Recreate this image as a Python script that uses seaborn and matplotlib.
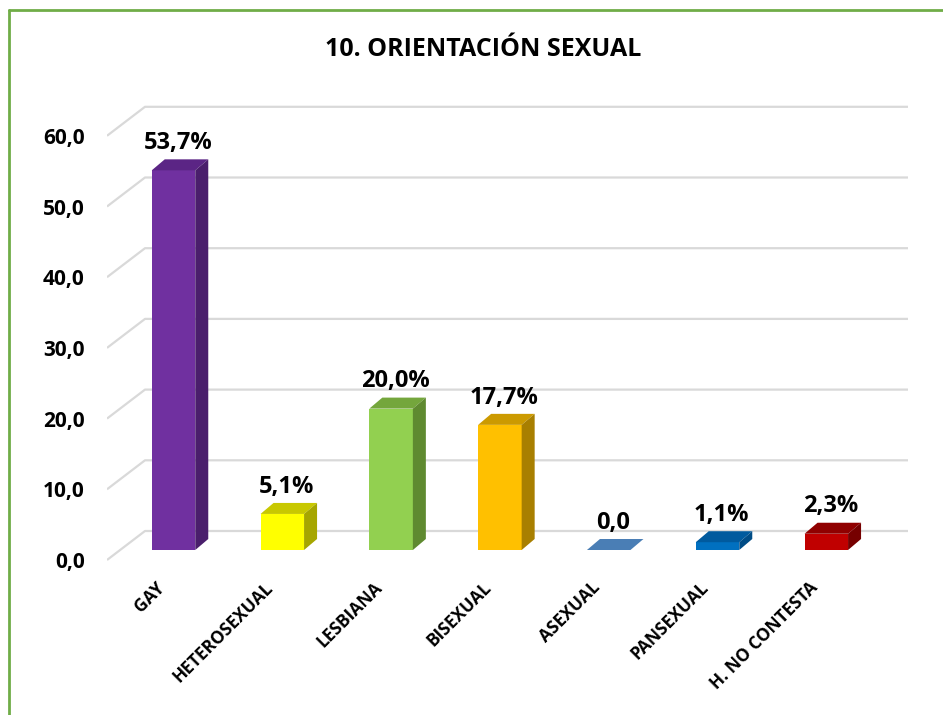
import numpy as np
import pandas as pd
import matplotlib
matplotlib.use('Agg')
import matplotlib.pyplot as plt
from matplotlib.patches import Polygon
from matplotlib.lines import Line2D
import seaborn as sns

# ── Data ─────────────────────────────────────────────────────
categories = ['GAY', 'HETEROSEXUAL', 'LESBIANA', 'BISEXUAL',
              'ASEXUAL', 'PANSEXUAL', 'H. NO CONTESTA']
values = [53.7, 5.1, 20.0, 17.7, 0.0, 1.1, 2.3]
value_labels = ['53,7%', '5,1%', '20,0%', '17,7%', '0,0', '1,1%', '2,3%']
y_ticks = [0, 10, 20, 30, 40, 50, 60]
title = '10. ORIENTACIÓN SEXUAL'

front_colors = ['#7030A0', '#FFFF00', '#92D050', '#FFC000', '#4A7EB5', '#0070C0', '#C00000']
top_colors   = ['#5B2585', '#C8C800', '#74A63C', '#CC9A00', '#4A7EB5', '#005A9E', '#900000']
side_colors  = ['#4A1E6C', '#A6A600', '#5F8A30', '#A87F00', '#3C6894', '#004C86', '#760000']

# ── Layout (pixel geometry of the reference) ─────────────────
W, H, DPI = 943, 715, 100
X0_PX, STEP_PX = 173.5, 108.8       # centre of first bar, bar spacing
Y0_PX, UNIT_PX = 550.0, 7.07        # baseline, px per value unit
AX_L, AX_R, AX_T, AX_B = 107, 925, 90, 570

def to_cat(px):
    return (px - X0_PX) / STEP_PX

def to_val(py):
    return (Y0_PX - py) / UNIT_PX

BAR_W = 0.4
DX, DY = 13 / STEP_PX, 11 / UNIT_PX          # bar depth
FRONT_OFF = to_val(560)                      # floor front edge
BACK_OFF = to_val(531)                       # back wall
X_FRONT, X_BACK, X_END = to_cat(107), to_cat(145), to_cat(908)
LABEL_SHIFT = 18 / STEP_PX                   # category labels sit left of bar centre

sns.set_theme(style='white')
plt.rcParams['font.family'] = ['Open Sans', 'DejaVu Sans']
plt.rcParams['text.color'] = 'black'
plt.rcParams['xtick.color'] = 'black'
plt.rcParams['ytick.color'] = 'black'

fig = plt.figure(figsize=(W / DPI, H / DPI), dpi=DPI)
ax = fig.add_axes([AX_L / W, 1 - AX_B / H, (AX_R - AX_L) / W, (AX_B - AX_T) / H])

# gridlines with 3D floor perspective
for v in y_ticks:
    ax.plot([X_FRONT, X_BACK, X_END], [v + FRONT_OFF, v + BACK_OFF, v + BACK_OFF],
            color='#D9D9D9', lw=1.6, zorder=0, solid_capstyle='butt')

df = pd.DataFrame({'cat': categories, 'val': values})
sns.barplot(data=df, x='cat', y='val', hue='cat', palette=front_colors,
            width=BAR_W, legend=False, linewidth=0, saturation=1, ax=ax, zorder=2)

# top and side faces
for i, v in enumerate(values):
    xl, xr = i - BAR_W / 2, i + BAR_W / 2
    top = [(xl, v), (xr, v), (xr + DX, v + DY), (xl + DX, v + DY)]
    ax.add_patch(Polygon(top, closed=True, fc=top_colors[i], ec='none', zorder=3))
    if v > 0:
        side = [(xr, 0), (xr + DX, DY), (xr + DX, v + DY), (xr, v)]
        ax.add_patch(Polygon(side, closed=True, fc=side_colors[i], ec='none', zorder=3))
    ax.text(i + DX / 2 - 0.02, v + DY + 0.6, value_labels[i], ha='center', va='bottom',
            fontsize=17, fontweight='bold', color='black', zorder=4)

ax.set_xlim(to_cat(AX_L), to_cat(AX_R))
ax.set_ylim(to_val(AX_B), to_val(AX_T))
ax.set_yticks([v + FRONT_OFF for v in y_ticks])
ax.set_yticklabels([f'{v:.1f}'.replace('.', ',') for v in y_ticks],
                   fontsize=15, fontweight='bold')
ax.set_xticks([i - LABEL_SHIFT for i in range(len(categories))])
ax.set_xticklabels(categories, rotation=45, ha='right', rotation_mode='anchor',
                   fontsize=12.5, fontweight='bold')
ax.tick_params(axis='both', length=0)
ax.tick_params(axis='y', pad=16)
ax.tick_params(axis='x', pad=6)
ax.set_xlabel('')
ax.set_ylabel('')
sns.despine(ax=ax, left=True, bottom=True)

fig.text(483 / W, 1 - 50 / H, title, ha='center', va='center',
         fontsize=18, fontweight='bold', color='black')

# green chart border (left and top edges visible)
fig.add_artist(Line2D([9 / W, 9 / W], [0, 1 - 10 / H], color='#70AD47', lw=2,
                      transform=fig.transFigure))
fig.add_artist(Line2D([9 / W, 1], [1 - 10 / H, 1 - 10 / H], color='#70AD47', lw=2,
                      transform=fig.transFigure))

fig.savefig('out.png', dpi=DPI)
